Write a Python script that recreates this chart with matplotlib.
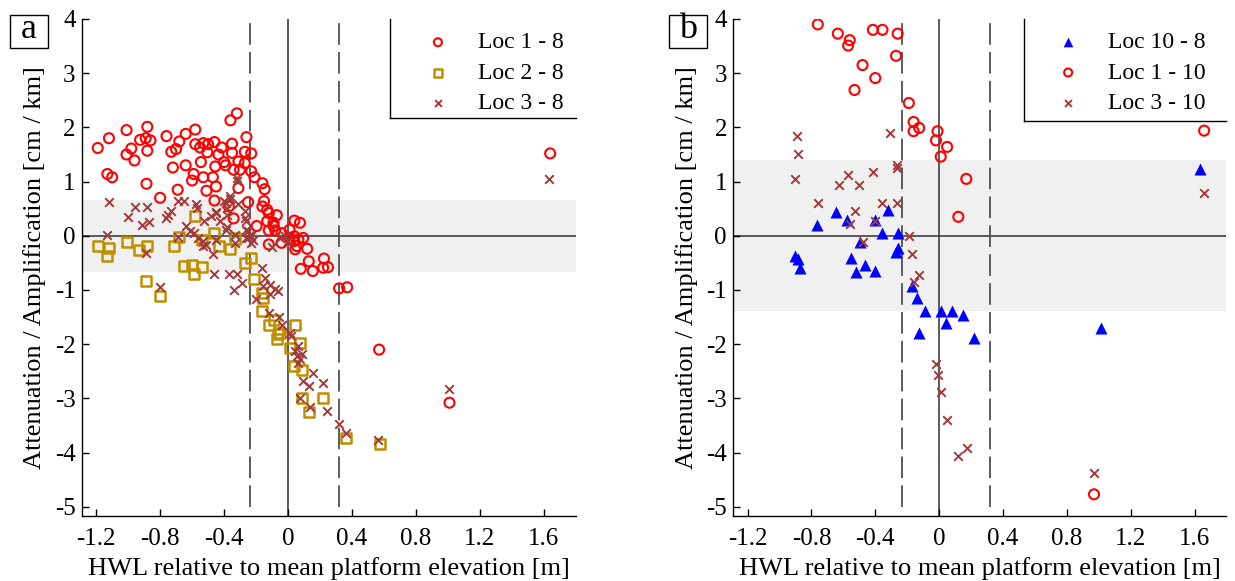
import matplotlib
matplotlib.use("Agg")
import matplotlib.pyplot as plt
from matplotlib.patches import Rectangle

plt.rcParams['font.family'] = ['Liberation Serif', 'DejaVu Serif']
plt.rcParams['axes.unicode_minus'] = False

# ---------------- Panel a data ----------------
loc1_8_x = [-1.19, -1.12, -1.13, -1.10, -1.01, -0.98, -1.01, -0.96, -0.925, -0.89, -0.88, -0.86, -0.88, -0.885,
            -0.80, -0.76, -0.73, -0.70, -0.68, -0.64, -0.58, -0.72, -0.69, -0.64, -0.58, -0.53, -0.55, -0.50,
            -0.46, -0.415, -0.505, -0.545, -0.435, -0.40, -0.35, -0.35, -0.36, -0.32, -0.59, -0.60, -0.53,
            -0.47, -0.455, -0.45, -0.51, -0.46, -0.39, -0.34, -0.31, -0.31, -0.37, -0.34, -0.27, -0.23, -0.26,
            -0.27, -0.30, -0.23, -0.21, -0.25, -0.16, -0.146, -0.15, -0.16, -0.13, -0.12, -0.07, -0.13, -0.09,
            -0.12, -0.04, -0.196, -0.12, -0.04, -0.09, 0.04, 0.075, -0.08, 0.01, 0.01, 0.04, 0.065, 0.095,
            0.035, 0.055, 0.045, 0.12, 0.13, 0.08, 0.155, 0.225, 0.22, 0.25, 0.32, 0.37, 0.57, 1.01, 1.64]
loc1_8_y = [1.62, 1.80, 1.14, 1.08, 1.95, 1.61, 1.50, 1.39, 1.77, 1.80, 2.01, 1.76, 1.57, 0.96,
            0.70, 1.84, 1.55, 1.60, 1.74, 1.88, 1.96, 1.26, 0.85, 1.30, 1.69, 1.71, 1.63, 1.69,
            1.73, 1.63, 1.54, 1.36, 1.50, 1.36, 1.70, 1.53, 2.13, 2.26, 1.14, 1.02, 1.08,
            1.08, 1.28, 0.91, 0.83, 0.65, 1.30, 1.22, 1.37, 0.88, 0.54, 0.32, 1.55, 1.52, 1.82,
            1.34, 1.22, 1.19, 1.08, 0.62, 0.97, 0.86, 0.64, 0.54, 0.48, 0.42, 0.38, 0.27, 0.18,
            0.10, 0.05, 0.18, -0.16, -0.13, 0.24, 0.28, 0.24, 0.10, 0.11, -0.04, -0.01, -0.07, -0.04,
            -0.10, -0.19, -0.25, -0.24, -0.47, -0.61, -0.65, -0.42, -0.59, -0.58, -0.97, -0.95, -2.10, -3.08, 1.52]

loc2_8_x = [-1.19, -1.12, -1.13, -1.01, -0.93, -0.88, -0.89, -0.80, -0.71, -0.68, -0.58, -0.65, -0.60,
            -0.59, -0.54, -0.54, -0.46, -0.43, -0.36, -0.33, -0.27, -0.23, -0.21, -0.16, -0.155, -0.16,
            -0.12, -0.09, -0.06, -0.07, -0.05, 0.045, 0.075, 0.01, 0.04, 0.085, 0.09, 0.13, 0.22, 0.36, 0.575]
loc2_8_y = [-0.19, -0.22, -0.38, -0.11, -0.27, -0.18, -0.84, -1.12, -0.18, -0.03, 0.36, -0.56, -0.54,
            -0.70, -0.57, -0.07, 0.05, -0.19, -0.25, -0.05, -0.51, -0.41, -0.80, -1.06, -1.15, -1.39,
            -1.64, -1.56, -1.82, -1.90, -1.79, -1.65, -1.98, -2.07, -2.41, -2.47, -2.99, -3.25, -2.99, -3.74, -3.85]

loc3_8_x = [-1.12, -1.13, -1.00, -0.96, -0.88, -0.915, -0.87, -0.89, -0.765, -0.75, -0.73, -0.69, -0.65,
            -0.64, -0.61, -0.575, -0.56, -0.48, -0.45, -0.40, -0.36, -0.38, -0.53, -0.47, -0.38, -0.33,
            -0.33, -0.32, -0.27, -0.26, -0.24, -0.25, -0.80, -0.69, -0.59, -0.57, -0.53, -0.51, -0.525,
            -0.45, -0.45, -0.46, -0.38, -0.37, -0.34, -0.32, -0.29, -0.26, -0.23, -0.20, -0.31, -0.32,
            -0.36, -0.39, -0.425, -0.385, -0.27, -0.26, -0.25, -0.23, -0.22, -0.16, -0.145, -0.155, -0.11,
            -0.08, -0.11, -0.06, -0.12, -0.055, -0.04, 0.01, 0.02, 0.065, 0.045, 0.055, 0.075, 0.085, 0.065,
            0.095, 0.13, 0.155, 0.22, 0.075, 0.14, 0.245, 0.32, 0.365, 0.565, 1.01, 1.63,
            -0.05, 0.0, -0.02, -0.10]
loc3_8_y = [0.62, 0.02, 0.34, 0.53, 0.53, 0.19, 0.26, -0.31, 0.33, 0.38, 0.45, 0.64, 0.64,
            0.18, 0.08, 0.58, -0.04, 0.36, 0.44, 0.64, 0.68, 0.51, -0.18, -0.34, 0.16, 0.01,
            -0.13, 1.02, 0.33, 0.11, 0.02, -0.05, -0.94, -0.03, 0.05, 0.51, -0.09, -0.17, 0.27,
            -0.07, 0.42, -0.70, 0.39, -0.70, -1.00, -0.70, -0.87, -0.04, -0.13, -1.17, 0.58, 1.07,
            0.73, 0.61, 0.27, 0.11, 0.45, 0.27, 0.08, -0.01, -0.07, -0.59, -0.78, -0.93, -0.90,
            -0.99, -1.08, -1.02, -1.42, -1.49, -1.64, -1.79, -1.85, -2.04, -2.13, -2.22, -2.28, -2.19, -2.35,
            -2.68, -2.78, -2.53, -2.72, -2.99, -3.15, -3.24, -3.47, -3.64, -3.76, -2.83, 1.04,
            -0.05, -0.10, 0.0, -0.20]

# ---------------- Panel b data ----------------
loc10_8_x = [-0.765, -0.645, -0.58, -0.40, -0.32, -0.355, -0.26, -0.495, -0.255, -0.90, -0.885, -0.87,
             -0.55, -0.52, -0.465, -0.40, -0.27, -0.17, -0.14, -0.09, -0.125, 0.01, 0.08, 0.045, 0.15,
             0.22, 1.015, 1.635]
loc10_8_y = [0.19, 0.43, 0.29, 0.29, 0.48, 0.06, 0.06, -0.12, -0.22, -0.37, -0.43, -0.60,
             -0.41, -0.66, -0.54, -0.65, -0.29, -0.93, -1.14, -1.38, -1.79, -1.38, -1.38, -1.61, -1.47,
             -1.89, -1.71, 1.23]

loc1_10_x = [-0.76, -0.635, -0.56, -0.57, -0.415, -0.355, -0.26, -0.27, -0.48, -0.40, -0.53, -0.19,
             -0.16, -0.16, -0.125, -0.01, -0.02, 0.05, 0.01, 0.17, 0.12, 0.97, 1.66]
loc1_10_y = [3.90, 3.73, 3.61, 3.51, 3.80, 3.80, 3.73, 3.32, 3.15, 2.91, 2.69, 2.45,
             2.10, 1.93, 1.99, 1.93, 1.76, 1.64, 1.46, 1.05, 0.35, -4.77, 1.94]

loc3_10_x = [-0.89, -0.885, -0.905, -0.63, -0.57, -0.50, -0.415, -0.31, -0.265, -0.265, -0.76, -0.53,
             -0.56, -0.355, -0.265, -0.40, -0.19, -0.48, -0.17, -0.16, -0.125, -0.02, -0.01, 0.01, 0.05,
             0.115, 0.175, 0.97, 1.66]
loc3_10_y = [1.84, 1.51, 1.05, 0.93, 1.12, 0.93, 1.18, 1.90, 1.31, 1.25, 0.60, 0.46,
             0.22, 0.60, 0.60, 0.28, 0.0, -0.12, -0.33, -0.85, -0.73, -2.36, -2.56, -2.88, -3.40,
             -4.06, -3.92, -4.38, 0.79]

xticks = [-1.2, -0.8, -0.4, 0, 0.4, 0.8, 1.2, 1.6]
xticklabels = ['-1.2', '-0.8', '-0.4', '0', '0.4', '0.8', '1.2', '1.6']
yticks = [-5, -4, -3, -2, -1, 0, 1, 2, 3, 4]
yticklabels = ['-5', '-4', '-3', '-2', '-1', '0', '1', '2', '3', '4']
dashed_x = [-0.235, 0.32]
band_a = 0.66
band_b = 1.39

RED = '#FF0000'
GOLD = '#BF8F00'
BROWN = '#A33A3A'
BLUE = '#0000FF'

fig = plt.figure(figsize=(12.35, 5.81), dpi=100)
ax_a = fig.add_axes([0.0662, 0.1119, 0.4, 0.8554])
ax_b = fig.add_axes([0.5937, 0.1119, 0.3994, 0.8554])

FS_LABEL = 19
FS_TICK = 18


def style(ax, band):
    ax.set_xlim(-1.29, 1.8)
    ax.set_ylim(-5.17, 4)
    ax.axhspan(-band, band, color='#F0F0F0', zorder=0, lw=0)
    ax.axhline(0, color='#404040', lw=1.2, zorder=1)
    ax.axvline(0, color='#404040', lw=1.2, zorder=1)
    for xv in dashed_x:
        ax.plot([xv, xv], [-5.0, 4.0], color='#505050', lw=1.3, ls=(0, (12, 4)), zorder=1)
    for s in ['top', 'right']:
        ax.spines[s].set_visible(False)
    for s in ['left', 'bottom']:
        ax.spines[s].set_linewidth(1.0)
    ax.set_xticks(xticks)
    ax.set_xticklabels(xticklabels)
    ax.set_yticks(yticks)
    ax.set_yticklabels(yticklabels)
    ax.tick_params(direction='in', length=5, width=1, labelsize=FS_TICK)
    ax.tick_params(axis='x', pad=9)
    ax.tick_params(axis='y', pad=4.5)
    ax.set_xlabel('HWL relative to mean platform elevation [m]', fontsize=FS_LABEL, labelpad=5)
    ax.set_ylabel('Attenuation / Amplification [cm / km]', fontsize=FS_LABEL, labelpad=6)


style(ax_a, band_a)
style(ax_b, band_b)

ms_c = 52
ax_a.scatter(loc1_8_x, loc1_8_y, s=ms_c, facecolors='none', edgecolors=RED, linewidths=1.5, marker='o',
             zorder=3, label='Loc 1 - 8')
ax_a.scatter(loc2_8_x, loc2_8_y, s=ms_c, facecolors='none', edgecolors=GOLD, linewidths=1.8, marker='s',
             zorder=3, label='Loc 2 - 8')
ax_a.scatter(loc3_8_x, loc3_8_y, s=38, color=BROWN, linewidths=1.4, marker='x', zorder=3, label='Loc 3 - 8')

ax_b.scatter(loc10_8_x, loc10_8_y, s=75, color=BLUE, marker='^', zorder=3, label='Loc 10 - 8', linewidths=0)
ax_b.scatter(loc1_10_x, loc1_10_y, s=ms_c, facecolors='none', edgecolors=RED, linewidths=1.5, marker='o',
             zorder=3, label='Loc 1 - 10')
ax_b.scatter(loc3_10_x, loc3_10_y, s=38, color=BROWN, linewidths=1.4, marker='x', zorder=3, label='Loc 3 - 10')


def legend_box(ax, x0, y0):
    ax.plot([x0, x0], [y0, 1.0], transform=ax.transAxes, color='k', lw=1.0, clip_on=False, zorder=5)
    ax.plot([x0, 1.0], [y0, y0], transform=ax.transAxes, color='k', lw=1.0, clip_on=False, zorder=5)


def add_legend(ax, anchor):
    return ax.legend(loc='upper left', bbox_to_anchor=anchor, frameon=False, fontsize=17,
                     handletextpad=0.7, labelspacing=0.37, markerscale=0.8, borderaxespad=0)


add_legend(ax_a, (0.654, 0.993))
legend_box(ax_a, 0.624, 0.80)
add_legend(ax_b, (0.612, 0.993))
legend_box(ax_b, 0.59, 0.795)

W, H = 1235, 581
for label, x0 in [('a', 10), ('b', 669)]:
    fig.patches.append(Rectangle((x0 / W, 1 - 48 / H), 38 / W, 33 / H, transform=fig.transFigure,
                                 facecolor='white', edgecolor='black', lw=1.0))
    fig.text((x0 + 19) / W, 1 - 30 / H, label, fontsize=26, ha='center', va='center')

fig.savefig('out.png', dpi=100)
